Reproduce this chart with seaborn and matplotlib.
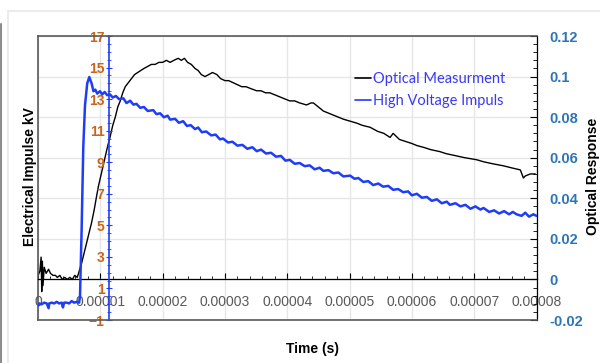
import matplotlib
matplotlib.use("Agg")
import matplotlib.pyplot as plt
import pandas as pd
import seaborn as sns
from matplotlib.lines import Line2D
from matplotlib.ticker import MultipleLocator, FuncFormatter

# time in units of 1e-5 s
opt_time = [0.00, 0.03, 0.05, 0.06, 0.07, 0.08, 0.10, 0.13, 0.17, 0.20, 0.24, 0.28,
            0.31, 0.35, 0.39, 0.43, 0.47, 0.51, 0.55, 0.59, 0.63, 0.66, 0.70, 0.74,
            0.78, 0.82, 0.86, 0.90, 0.94, 0.97, 1.00, 1.03, 1.06, 1.09, 1.12, 1.155,
            1.20, 1.24, 1.28, 1.32, 1.36, 1.40, 1.45, 1.50, 1.55, 1.60, 1.65, 1.70,
            1.76, 1.82, 1.88, 1.94, 2.00, 2.06, 2.12, 2.18, 2.25, 2.30, 2.35, 2.40,
            2.46, 2.52, 2.57, 2.62, 2.68, 2.74, 2.80, 2.87, 2.93, 3.00, 3.06, 3.13,
            3.20, 3.27, 3.34, 3.42, 3.51, 3.58, 3.65, 3.72, 3.80, 3.88, 3.96, 4.04,
            4.12, 4.20, 4.31, 4.38, 4.42, 4.50, 4.58, 4.66, 4.74, 4.82, 4.90, 5.01,
            5.12, 5.20, 5.33, 5.45, 5.55, 5.65, 5.70, 5.80, 5.90, 6.00, 6.08, 6.20,
            6.30, 6.45, 6.55, 6.70, 6.85, 7.04, 7.15, 7.30, 7.47, 7.60, 7.74, 7.79,
            7.82, 7.90, 7.98]
opt_value = [0.002, 0.004, 0.011, -0.006, 0.009, -0.003, 0.006, 0.003, 0.005, 0.003, 0.002, 0.002,
             0.001, 0.002, 0.000, 0.001, 0.000, 0.001, 0.000, 0.002, 0.001, 0.004, 0.008, 0.013,
             0.018, 0.023, 0.028, 0.034, 0.041, 0.046, 0.050, 0.054, 0.058, 0.062, 0.066, 0.070,
             0.076, 0.080, 0.085, 0.088, 0.092, 0.095, 0.097, 0.099, 0.101, 0.102, 0.103, 0.104,
             0.105, 0.106, 0.106, 0.107, 0.107, 0.108, 0.107, 0.108, 0.109, 0.108, 0.109, 0.107,
             0.106, 0.104, 0.103, 0.101, 0.100, 0.101, 0.102, 0.101, 0.099, 0.098, 0.098, 0.097,
             0.096, 0.095, 0.095, 0.094, 0.093, 0.093, 0.092, 0.092, 0.091, 0.090, 0.089, 0.088,
             0.088, 0.087, 0.086, 0.087, 0.087, 0.085, 0.083, 0.082, 0.081, 0.080, 0.079, 0.078,
             0.077, 0.076, 0.075, 0.073, 0.072, 0.070, 0.072, 0.069, 0.068, 0.067, 0.066, 0.065,
             0.064, 0.063, 0.062, 0.061, 0.060, 0.059, 0.058, 0.057, 0.056, 0.055, 0.054, 0.050,
             0.051, 0.052, 0.052]

hv_time = [0.00, 0.02, 0.06, 0.10, 0.14, 0.17, 0.18, 0.22, 0.26, 0.30, 0.34, 0.38,
           0.40, 0.42, 0.46, 0.50, 0.54, 0.58, 0.62, 0.66, 0.674, 0.70, 0.727, 0.754,
           0.79, 0.823, 0.86, 0.89, 0.92, 0.95, 0.995, 1.03, 1.07, 1.11, 1.155, 1.20,
           1.25, 1.30, 1.37, 1.42, 1.48, 1.53, 1.58, 1.64, 1.70, 1.76, 1.85, 1.90,
           1.96, 2.02, 2.08, 2.12, 2.20, 2.26, 2.33, 2.39, 2.45, 2.52, 2.57, 2.63,
           2.70, 2.78, 2.85, 2.92, 2.97, 3.05, 3.12, 3.20, 3.28, 3.36, 3.44, 3.51,
           3.58, 3.66, 3.74, 3.82, 3.90, 3.97, 4.04, 4.12, 4.20, 4.28, 4.36, 4.44,
           4.52, 4.58, 4.66, 4.74, 4.82, 4.90, 5.01, 5.08, 5.14, 5.22, 5.30, 5.38,
           5.46, 5.54, 5.62, 5.70, 5.78, 5.86, 5.94, 6.00, 6.08, 6.16, 6.24, 6.32,
           6.40, 6.48, 6.56, 6.61, 6.70, 6.78, 6.86, 6.94, 7.02, 7.10, 7.15, 7.24,
           7.32, 7.40, 7.48, 7.56, 7.62, 7.68, 7.76, 7.82, 7.88, 7.95, 8.00]
hv_kv = [-0.1, 0.05, 0.0, 0.1, 0.05, -0.25, 0.05, 0.1, 0.05, 0.15, 0.05, 0.1,
         -0.2, 0.1, 0.1, 0.05, 0.2, 0.1, 0.15, 0.1, 0.5, 4.7, 10.0, 12.6,
         14.0, 14.4, 14.0, 13.5, 13.6, 13.35, 13.5, 13.3, 13.45, 13.25, 13.3, 13.1,
         13.2, 13.0, 13.05, 12.75, 12.9, 12.65, 12.7, 12.45, 12.5, 12.25, 12.3, 12.05,
         12.1, 11.85, 11.95, 11.7, 11.75, 11.5, 11.6, 11.3, 11.35, 11.1, 11.2, 10.9,
         10.95, 10.7, 10.75, 10.45, 10.5, 10.25, 10.3, 10.05, 10.1, 9.85, 9.95, 9.7,
         9.8, 9.55, 9.6, 9.35, 9.4, 9.1, 9.15, 8.9, 8.95, 8.75, 8.8, 8.55,
         8.65, 8.45, 8.5, 8.3, 8.35, 8.1, 8.15, 7.95, 8.0, 7.75, 7.8, 7.55,
         7.65, 7.45, 7.5, 7.25, 7.3, 7.1, 7.15, 6.9, 7.0, 6.75, 6.8, 6.55,
         6.65, 6.4, 6.5, 6.3, 6.4, 6.2, 6.3, 6.05, 6.2, 6.0, 6.1, 5.85,
         5.95, 5.75, 5.9, 5.7, 5.85, 5.7, 5.6, 5.8, 5.55, 5.7, 5.6]

kv_ticks = list(range(-1, 18, 2))
opt_ticks = [-0.02, 0.0, 0.02, 0.04, 0.06, 0.08, 0.1, 0.12]

opt_df = pd.DataFrame({"t": [v * 1e-5 for v in opt_time], "v": opt_value})
hv_df = pd.DataFrame({"t": [v * 1e-5 for v in hv_time], "kv": hv_kv})

sns.set_style("white")
plt.rcParams["font.family"] = ["Liberation Sans", "DejaVu Sans"]

fig = plt.figure(figsize=(6, 3.63), dpi=100)
W, H = 600, 363
ax = fig.add_axes([38 / W, 1 - 320 / H, (536.5 - 38) / W, (320 - 36) / H])
ax_kv = ax.twinx()

# optical response (right axis)
sns.lineplot(data=opt_df, x="t", y="v", ax=ax, color="black", lw=1,
             estimator=None, sort=False, legend=False)
ax.set_xlim(0, 8e-5)
ax.set_ylim(-0.02, 0.12)
ax.set_xlabel("")
ax.set_ylabel("")
ax.set_yticks(opt_ticks)
ax.yaxis.set_minor_locator(MultipleLocator(0.004))
ax.yaxis.tick_right()
ax.yaxis.set_major_formatter(FuncFormatter(lambda v, p: "0" if abs(v) < 1e-9 else f"{v:g}"))
ax.tick_params(axis="y", which="both", right=True, left=False, direction="in", color="black")
ax.tick_params(axis="y", which="major", length=5, labelsize=10.5, labelcolor="#2E75B6", pad=9)
ax.tick_params(axis="y", which="minor", length=3)
for lab in ax.get_yticklabels():
    lab.set_fontweight("bold")

ax.set_xticks([i * 1e-5 for i in range(9)])
ax.xaxis.set_minor_locator(MultipleLocator(0.2e-5))
ax.xaxis.set_major_formatter(FuncFormatter(lambda v, p: "0" if v == 0 else f"{v:.5f}"))
ax.tick_params(axis="x", which="both", bottom=True, direction="in", color="black")
ax.tick_params(axis="x", which="major", length=4, labelsize=10, labelcolor="#595959", pad=11)
ax.tick_params(axis="x", which="minor", length=2.5)
for lab in ax.get_xticklabels():
    lab.set_fontweight("bold")

ax.grid(True, which="major", color="#E6E6E6", lw=1)
ax.set_axisbelow(True)
ax.spines["bottom"].set_position(("data", 0))
ax.spines["bottom"].set_color("black")
ax.spines["bottom"].set_linewidth(0.9)
ax.spines["top"].set_visible(False)
ax.spines["left"].set_color("#595959")
ax.spines["left"].set_linewidth(1.2)
ax.spines["right"].set_color("black")
ax.spines["right"].set_linewidth(0.9)

# high voltage impulse (kV axis drawn on a blue line inside the plot)
sns.lineplot(data=hv_df, x="t", y="kv", ax=ax_kv, color="#1F3DF5", lw=1.8,
             estimator=None, sort=False, legend=False)
ax_kv.set_ylim(-1, 17)
ax_kv.set_ylabel("")
ax_kv.set_yticks(kv_ticks)
ax_kv.yaxis.set_minor_locator(MultipleLocator(0.5))
ax_kv.yaxis.tick_left()
ax_kv.spines["left"].set_position(("data", 1.145e-5))
ax_kv.spines["left"].set_color("#1F3DF5")
ax_kv.spines["left"].set_linewidth(1.2)
ax_kv.spines["right"].set_visible(False)
ax_kv.spines["top"].set_color("#595959")
ax_kv.spines["top"].set_linewidth(1.2)
ax_kv.spines["bottom"].set_color("#595959")
ax_kv.spines["bottom"].set_linewidth(1.2)
ax_kv.tick_params(axis="y", which="both", direction="inout", color="#1F3DF5")
ax_kv.tick_params(axis="y", which="major", length=5, labelsize=10, labelcolor="#C9651A", pad=1)
ax_kv.tick_params(axis="y", which="minor", length=3)
for lab in ax_kv.get_yticklabels():
    lab.set_fontweight("bold")
ax_kv.grid(False)

handles = [Line2D([], [], color="black", lw=1.2), Line2D([], [], color="#1F3DF5", lw=1.2)]
ax_kv.legend(handles, ["Optical Measurment", "High Voltage Impuls"], loc="upper left",
             bbox_to_anchor=(0.625, 0.895), frameon=False, labelcolor="#3A3AF2",
             prop={"family": ["Lato", "DejaVu Sans"], "size": 10.5},
             handlelength=1.1, handletextpad=0.1, labelspacing=0.55, borderaxespad=0)

fig.text(30 / W, 1 - 177 / H, "Electrical Impulse kV", rotation=90, ha="center", va="center",
         fontsize=10, fontweight="bold", color="black")
fig.text(593 / W, 1 - 176 / H, "Optical Response", rotation=90, ha="center", va="center",
         fontsize=10, fontweight="bold", color="black")
fig.text(313 / W, 1 - 349 / H, "Time (s)", ha="center", va="center",
         fontsize=10, fontweight="bold", color="black")

# outer container lines
fig.add_artist(Line2D([8 / W, 1], [1 - 11 / H, 1 - 11 / H], color="#EBEBEB", lw=1.5))
fig.add_artist(Line2D([8 / W, 8 / W], [0, 1 - 11 / H], color="#EBEBEB", lw=1.5))
fig.add_artist(Line2D([1 / W, 1 / W], [0, 1 - 24 / H], color="#8C8C8C", lw=1.5))

fig.savefig("out.png", dpi=100)
